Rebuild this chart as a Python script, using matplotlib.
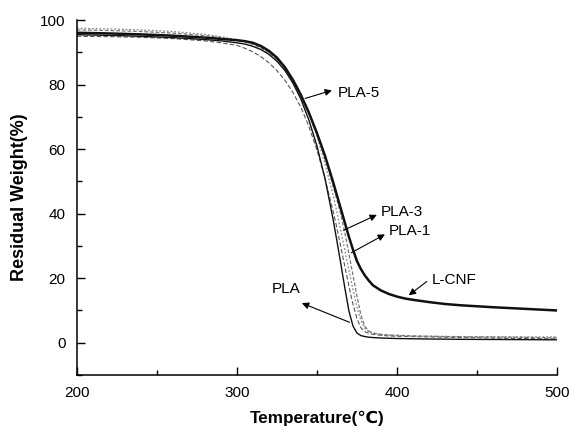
import matplotlib
matplotlib.use("Agg")
import matplotlib.pyplot as plt
from matplotlib.ticker import MultipleLocator

plt.rcParams['font.family'] = ['Liberation Sans', 'DejaVu Sans']

temperature = [200, 220, 240, 260, 280, 290, 300, 305, 310, 315, 320, 325, 330, 335, 340, 345,
               350, 355, 360, 362.5, 365, 367.5, 370, 372.5, 375, 377.5, 380, 382.5, 385, 390,
               395, 400, 405, 410, 420, 430, 440, 460, 480, 500]

l_cnf = [96.1, 95.9, 95.6, 95.2, 94.6, 94.2, 93.8, 93.5, 93.0, 92.0, 90.5, 88.4, 85.4, 81.5, 76.8, 71.3,
         65.0, 58.0, 50.0, 45.7, 41.4, 37.1, 32.8, 28.9, 25.3, 22.8, 20.8, 19.2, 17.8, 16.2,
         15.1, 14.3, 13.7, 13.3, 12.6, 12.0, 11.6, 11.0, 10.5, 10.0]
pla = [95.5, 95.3, 95.0, 94.6, 94.0, 93.6, 93.0, 92.6, 91.9, 90.9, 89.4, 87.3, 84.4, 80.5, 75.5, 69.0,
       61.0, 51.0, 38.5, 31.5, 24.2, 16.8, 9.8, 5.2, 3.0, 2.2, 1.9, 1.7, 1.6, 1.45,
       1.38, 1.3, 1.27, 1.22, 1.15, 1.1, 1.05, 1.0, 0.95, 0.9]
pla_1 = [97.0, 96.8, 96.5, 96.0, 95.2, 94.6, 93.8, 93.3, 92.5, 91.4, 89.9, 87.9, 85.2, 81.6, 77.0, 71.4,
         64.8, 57.2, 48.8, 44.3, 39.6, 34.0, 27.5, 21.0, 14.5, 8.5, 5.0, 3.6, 3.0, 2.6,
         2.4, 2.3, 2.2, 2.1, 2.0, 1.9, 1.85, 1.75, 1.65, 1.5]
pla_3 = [97.5, 97.3, 97.0, 96.5, 95.6, 94.9, 94.0, 93.5, 92.7, 91.6, 90.0, 88.0, 85.2, 81.5, 76.8, 71.0,
         64.0, 55.5, 46.0, 40.5, 34.5, 28.5, 22.5, 16.5, 11.0, 6.8, 4.4, 3.4, 2.9, 2.5,
         2.3, 2.2, 2.1, 2.05, 2.0, 1.95, 1.9, 1.85, 1.8, 1.8]
pla_5 = [95.0, 94.9, 94.7, 94.3, 93.6, 93.0, 92.2, 91.3, 90.2, 88.7, 86.8, 84.4, 81.4, 77.6, 73.0, 67.0,
         59.8, 51.0, 41.0, 35.5, 29.5, 23.5, 17.5, 12.0, 7.5, 4.6, 3.4, 2.9, 2.6, 2.3,
         2.1, 2.0, 1.95, 1.9, 1.8, 1.7, 1.6, 1.45, 1.3, 1.2]

labels = ["PLA-5", "PLA-3", "PLA-1", "L-CNF", "PLA"]

fig = plt.figure(figsize=(5.69, 4.30), dpi=100)
ax = fig.add_axes([0.135, 0.128, 0.844, 0.825])

common = dict(solid_joinstyle='round', dash_joinstyle='round')
ax.plot(temperature, pla_5, color='#555555', lw=0.8, ls=(0, (4, 2)), **common)
ax.plot(temperature, pla_3, color='#888888', lw=0.9, ls=(0, (1.5, 1.5)), **common)
ax.plot(temperature, pla_1, color='#777777', lw=0.9, ls=(0, (3, 1.5)), **common)
ax.plot(temperature, pla, color='#111111', lw=1.0, **common)
ax.plot(temperature, l_cnf, color='#111111', lw=1.8, **common)

arrow = dict(arrowstyle='-|>', color='black', lw=0.8, mutation_scale=10)
# PLA-5
ax.annotate("", xy=(361, 78.5), xytext=(341, 75.5), arrowprops=arrow)
ax.text(363, 77.5, labels[0], fontsize=11, va='center', ha='left')
# PLA-3
ax.annotate("", xy=(389, 40.0), xytext=(365, 34.5), arrowprops=arrow)
ax.text(390, 40.5, labels[1], fontsize=11, va='center', ha='left')
# PLA-1
ax.annotate("", xy=(394, 34.0), xytext=(370, 27.5), arrowprops=arrow)
ax.text(395, 34.5, labels[2], fontsize=11, va='center', ha='left')
# L-CNF
ax.annotate("", xy=(406, 14.2), xytext=(420, 19.5), arrowprops=arrow)
ax.text(422, 19.5, labels[3], fontsize=11, va='center', ha='left')
# PLA
ax.annotate("", xy=(339, 12.6), xytext=(372, 6.0), arrowprops=arrow)
ax.text(331, 16.5, labels[4], fontsize=11, va='center', ha='center')

ax.set_xlim(200, 500)
ax.set_ylim(-10, 100)
ax.set_xticks([200, 300, 400, 500])
ax.set_yticks([0, 20, 40, 60, 80, 100])
ax.xaxis.set_minor_locator(MultipleLocator(50))
ax.yaxis.set_minor_locator(MultipleLocator(10))
ax.tick_params(which='major', direction='in', length=6, width=1, labelsize=11, pad=8)
ax.tick_params(which='minor', direction='in', length=3.5, width=1)
ax.spines['top'].set_visible(False)
ax.spines['right'].set_visible(False)
ax.spines['left'].set_linewidth(1.1)
ax.spines['bottom'].set_linewidth(1.1)

ax.set_xlabel("Temperature(℃)", fontsize=12.3, fontweight='bold', labelpad=8)
ax.set_ylabel("Residual Weight(%)", fontsize=13, fontweight='bold', labelpad=9)

fig.savefig("out.png", dpi=100)
